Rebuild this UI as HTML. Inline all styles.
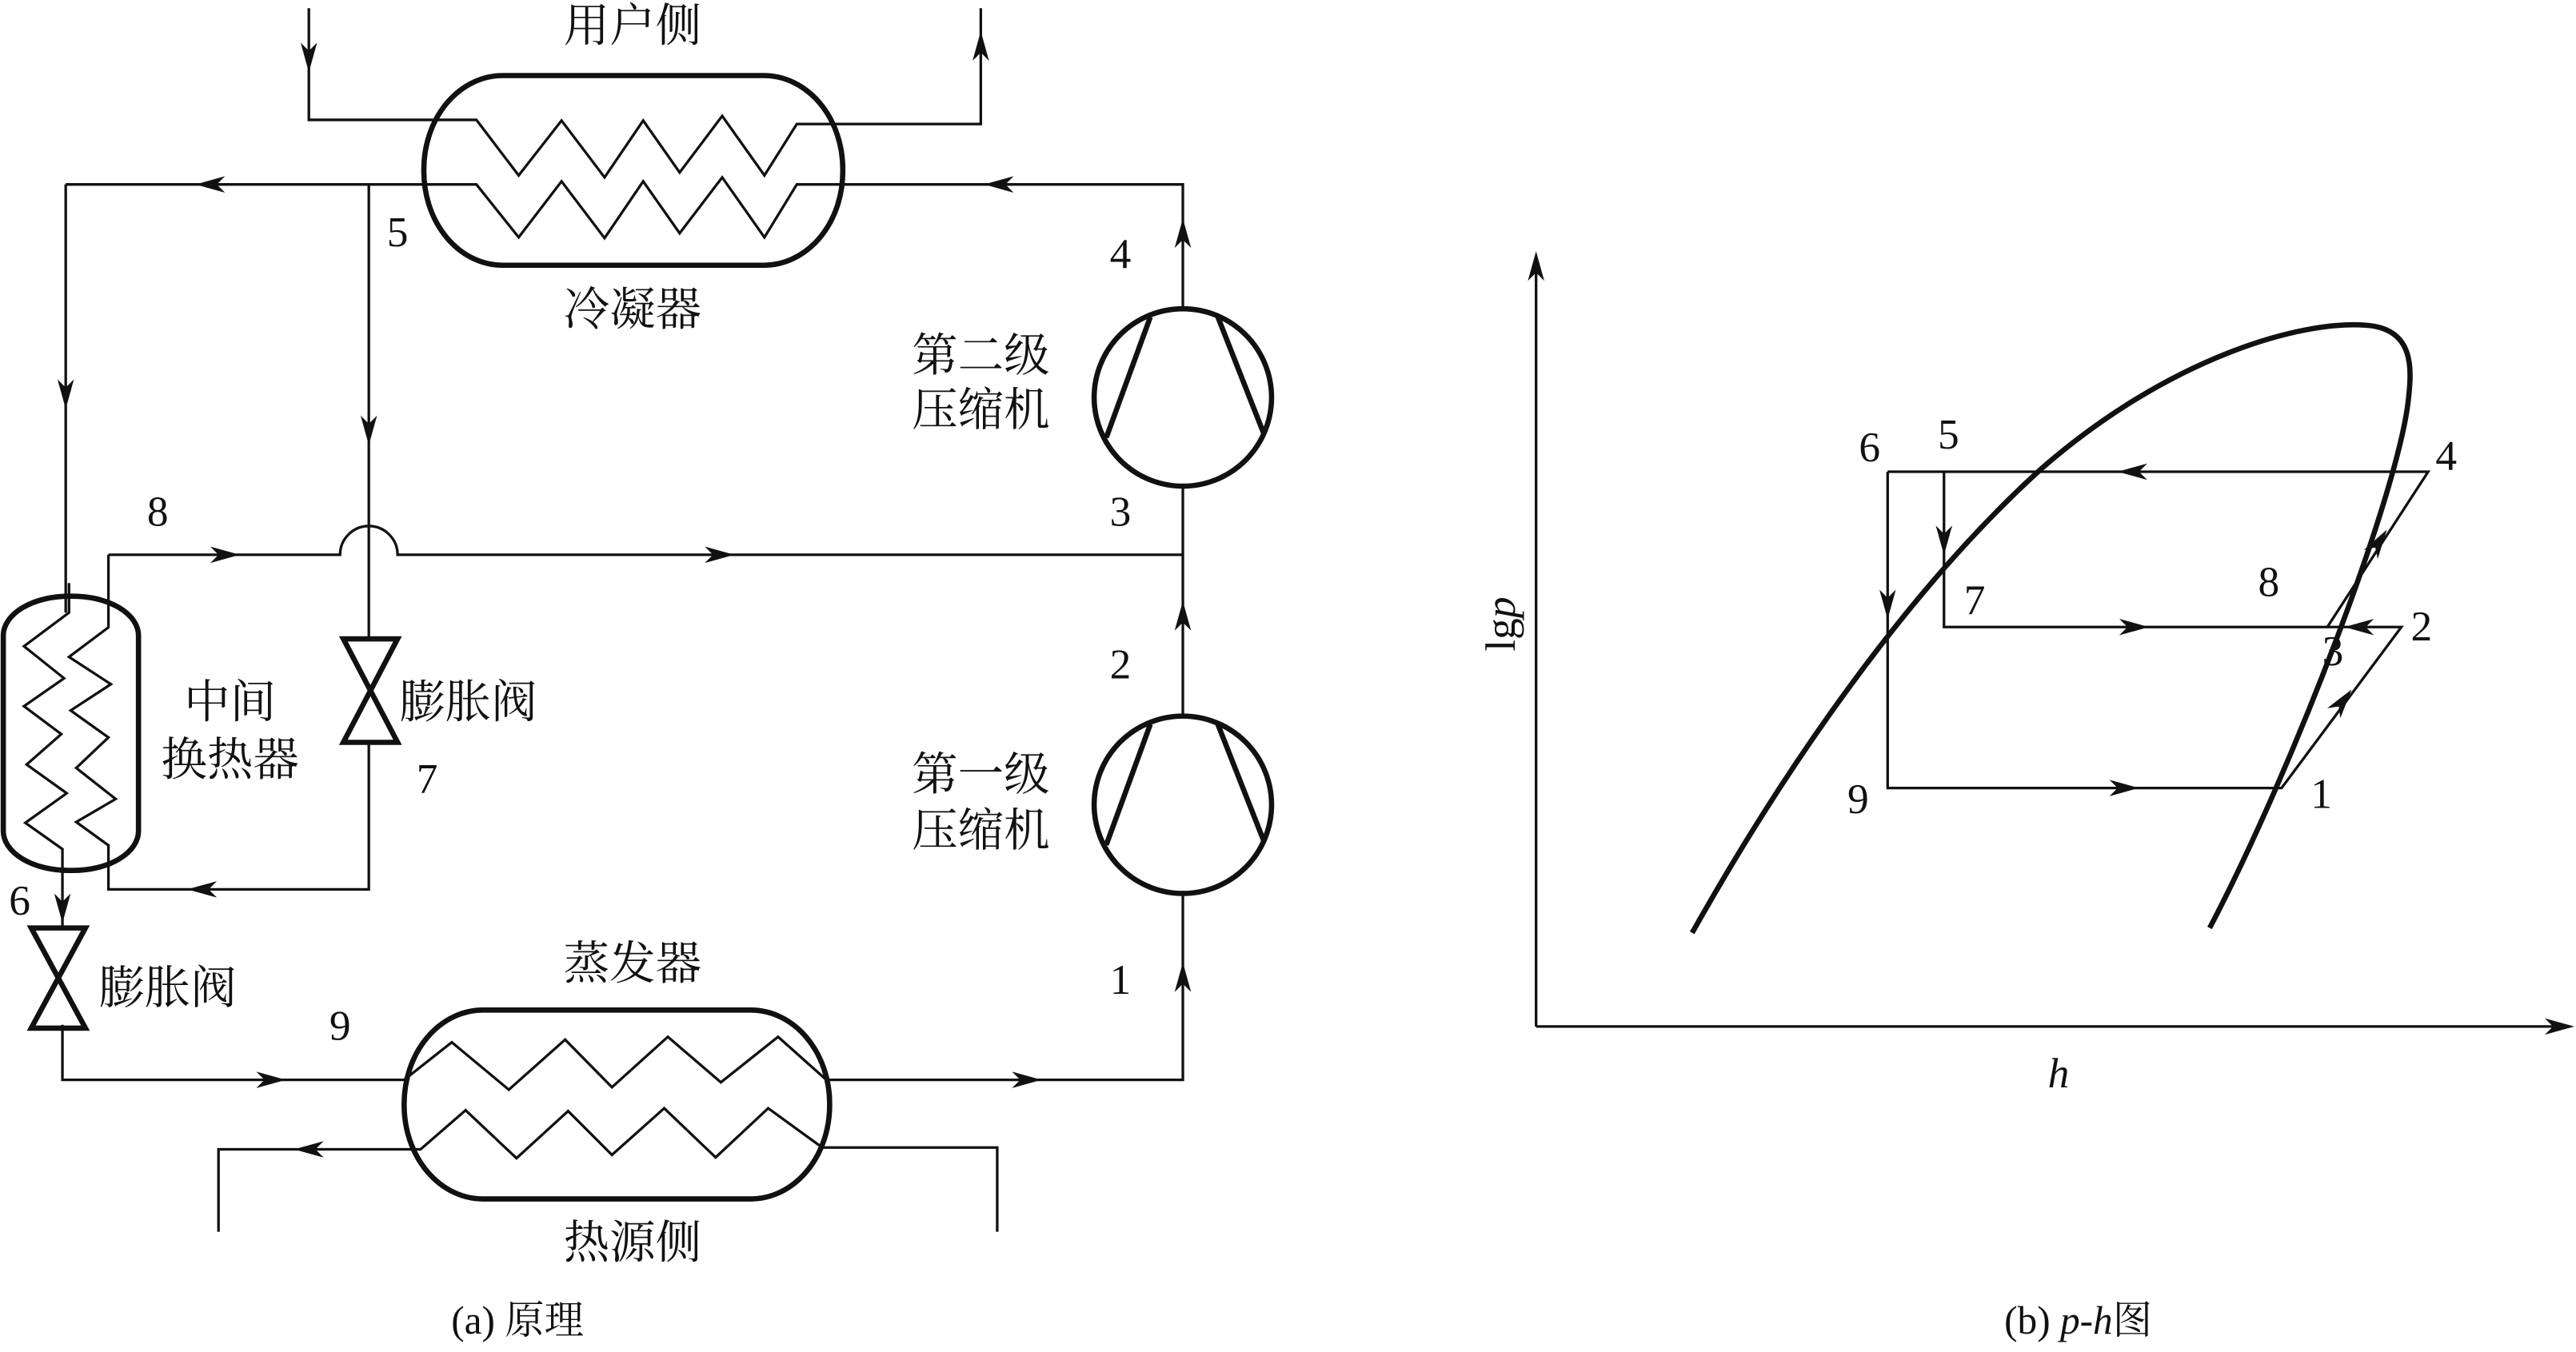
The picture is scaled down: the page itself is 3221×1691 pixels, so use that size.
<!DOCTYPE html>
<html><head><meta charset="utf-8"><style>
html,body{margin:0;padding:0;background:#fff;}
svg{display:block;}
text{font-family:"Liberation Serif","Noto Serif CJK SC","Noto Sans CJK SC",serif;fill:#111;}
</style></head><body>
<svg width="3221" height="1691" viewBox="0 0 1568 823.2" preserveAspectRatio="none" xmlns="http://www.w3.org/2000/svg">
<defs>
<path id="a" d="M9,0 L-9,-5 L-4,0 L-9,5 Z" fill="#111"/>
</defs>
<g fill="none" stroke="#111" stroke-width="1.6">
<polyline points="188,5 188,73 290,73 315.7,106.8 341.8,73.4 368,108 391.5,73.4 413.7,105 439.6,70.6 465.3,106.8 485,75.5 597,75.5 597,5"/>
<polyline points="40,112.3 290,112.3 315.7,144.5 341.8,110.4 368,145 391.5,110.4 413.7,142 439.6,108 465.3,144.5 485,112.3 720,112.3 720,188"/>
<polyline points="40,112.3 40,373"/>
<polyline points="224.5,112.3 224.5,389"/>
<polyline points="224.5,452 224.5,541.5 66,541.5 66,514"/>
<polyline points="42,355 42,373 14.6,393.5 39,413 14.6,430 37.3,447 16.2,465.5 40.6,483 15.4,501 38,517 38,565"/>
<polyline points="66,337.8 66,382 42,400 67.5,416.6 43,432.6 66,449 46.4,467.6 70.4,486.5 46.4,500.5 66,514.7"/>
<path d="M66,337.8 H207 A17.5,17.5 0 0 1 242,337.8 H720"/>
<polyline points="720,296 720,436"/>
<polyline points="720,544 720,657.5 503,657.5"/>
<polyline points="38,624 38,657.5 246,657.5 275,634.6 309.7,663.5 344,633 372.5,662 406.5,631.3 438.8,659 473.6,631.3 503,657.5"/>
<polyline points="133,750 133,699.8 256,699.8 283.4,676 314.4,705.2 345.8,676.5 372.5,703.2 404.3,674.8 435.6,704.7 467.6,674.8 500.5,698.7 607,698.7 607,750"/>
<polyline points="1149,287.2 1478,287.2 1416.5,382"/>
<polyline points="1183.3,287.2 1183.3,381.8 1461.7,381.8 1388.8,479.8 1149,479.8 1149,287.2"/>
</g>
<g fill="none" stroke="#111" stroke-width="3.2">
<rect x="258" y="46" width="255" height="115.5" rx="48" ry="57"/>
<rect x="246" y="615" width="259" height="115" rx="48" ry="57"/>
<rect x="2" y="363" width="82.3" height="167" rx="40" ry="24"/>
<circle cx="720" cy="242" r="54"/>
<line x1="700.2" y1="193" x2="673.4" y2="266.4"/><line x1="741.3" y1="193" x2="769.2" y2="263.9"/>
<circle cx="720" cy="490" r="54"/>
<line x1="700.2" y1="441" x2="673.4" y2="514.4"/><line x1="741.3" y1="441" x2="769.2" y2="511.9"/>
<polygon points="209,389 242,389 209,452 242,452"/>
<polygon points="19,565 52,565 19,626 52,626"/>
<path d="M1030,568 C1085,470 1160,360 1243,285 C1320,218 1400,195 1440,198 C1470,200 1468,225 1466,243 C1460,300 1395,470 1345,565"/>
</g>
<g fill="none" stroke="#111" stroke-width="1.6">
<line x1="935" y1="625" x2="935" y2="162"/><line x1="935" y1="625" x2="1558" y2="625"/>
</g>
<use href="#a" transform="translate(935,162) rotate(-90)"/>
<use href="#a" transform="translate(1558,625)"/>
<use href="#a" transform="translate(188,35) rotate(90)"/>
<use href="#a" transform="translate(597,28) rotate(-90)"/>
<use href="#a" transform="translate(128,112.3) rotate(180)"/>
<use href="#a" transform="translate(608,112.3) rotate(180)"/>
<use href="#a" transform="translate(40,240) rotate(90)"/>
<use href="#a" transform="translate(224.5,262) rotate(90)"/>
<use href="#a" transform="translate(137,337.8)"/>
<use href="#a" transform="translate(438,337.8)"/>
<use href="#a" transform="translate(720,142) rotate(-90)"/>
<use href="#a" transform="translate(720,375) rotate(-90)"/>
<use href="#a" transform="translate(720,595) rotate(-90)"/>
<use href="#a" transform="translate(123,541.5) rotate(180)"/>
<use href="#a" transform="translate(38,553) rotate(90)"/>
<use href="#a" transform="translate(165,657.5)"/>
<use href="#a" transform="translate(625,657.5)"/>
<use href="#a" transform="translate(188,699.8) rotate(180)"/>
<use href="#a" transform="translate(1298,287.2) rotate(180)"/>
<use href="#a" transform="translate(1299,381.8)"/>
<use href="#a" transform="translate(1293,479.8)"/>
<use href="#a" transform="translate(1436,381.8) rotate(180)"/>
<use href="#a" transform="translate(1183.3,329) rotate(90)"/>
<use href="#a" transform="translate(1149,368) rotate(90)"/>
<use href="#a" transform="translate(1426,427) rotate(-53)"/>
<use href="#a" transform="translate(1448,330) rotate(-57)"/>
<g font-size="28">
<text x="385" y="25" text-anchor="middle">用户侧</text>
<text x="385" y="198" text-anchor="middle">冷凝器</text>
<text x="597" y="226" text-anchor="middle">第二级</text>
<text x="597" y="259" text-anchor="middle">压缩机</text>
<text x="140" y="437" text-anchor="middle">中间</text>
<text x="140" y="472" text-anchor="middle">换热器</text>
<text x="243" y="437">膨胀阀</text>
<text x="597" y="481" text-anchor="middle">第一级</text>
<text x="597" y="515" text-anchor="middle">压缩机</text>
<text x="60" y="611">膨胀阀</text>
<text x="385" y="596" text-anchor="middle">蒸发器</text>
<text x="385" y="766" text-anchor="middle">热源侧</text>
</g>
<g font-size="26">
<text x="242" y="150" text-anchor="middle">5</text>
<text x="682" y="163" text-anchor="middle">4</text>
<text x="682" y="320" text-anchor="middle">3</text>
<text x="96" y="320" text-anchor="middle">8</text>
<text x="682" y="413" text-anchor="middle">2</text>
<text x="260" y="483" text-anchor="middle">7</text>
<text x="12" y="557" text-anchor="middle">6</text>
<text x="682" y="605" text-anchor="middle">1</text>
<text x="207" y="633" text-anchor="middle">9</text>
<text x="1138" y="281" text-anchor="middle">6</text>
<text x="1186" y="273" text-anchor="middle">5</text>
<text x="1489" y="286" text-anchor="middle">4</text>
<text x="1202" y="374" text-anchor="middle">7</text>
<text x="1381" y="363" text-anchor="middle">8</text>
<text x="1474" y="390" text-anchor="middle">2</text>
<text x="1420" y="405" text-anchor="middle">3</text>
<text x="1131" y="495" text-anchor="middle">9</text>
<text x="1413" y="492" text-anchor="middle">1</text>
<text x="1253" y="662" text-anchor="middle" font-style="italic">h</text>
<text transform="translate(922,380) rotate(-90)" text-anchor="middle">lg<tspan font-style="italic">p</tspan></text>
<text x="315" y="812" text-anchor="middle" font-size="24">(a) 原理</text>
<text x="1265" y="812" text-anchor="middle" font-size="24">(b) <tspan font-style="italic">p</tspan>-<tspan font-style="italic">h</tspan>图</text>
</g>
</svg>
</body></html>
